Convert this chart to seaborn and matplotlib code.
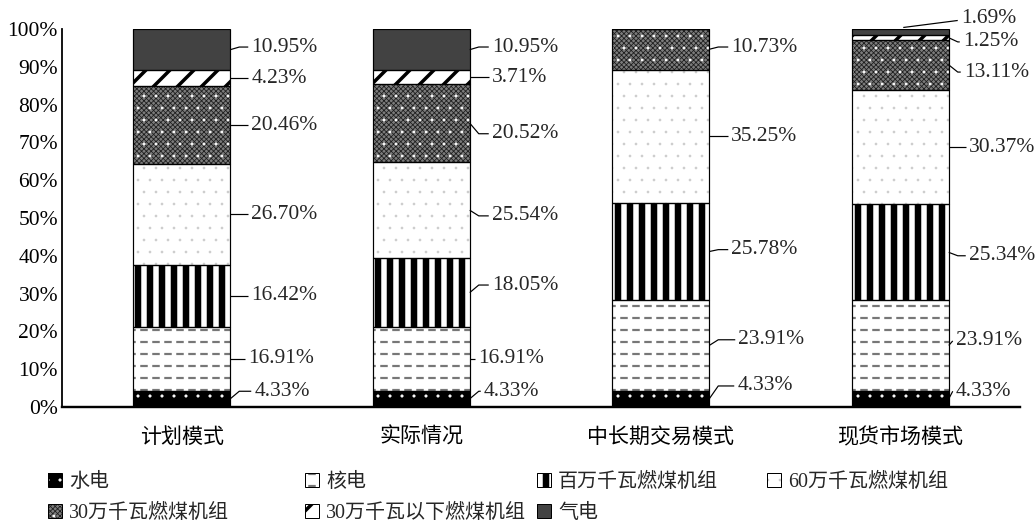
import matplotlib
matplotlib.use("Agg")
import matplotlib as mpl
import matplotlib.pyplot as plt
import numpy as np
import seaborn as sns
from matplotlib.patches import Patch, Rectangle
from matplotlib.legend_handler import HandlerPatch, HandlerTuple

# ---- data (percent share of generation by unit type) ----
categories = ["计划模式", "实际情况", "中长期交易模式", "现货市场模式"]
series_names = ["水电", "核电", "百万千瓦燃煤机组", "60万千瓦燃煤机组",
                "30万千瓦燃煤机组", "30万千瓦以下燃煤机组", "气电"]
hydro = [4.33, 4.33, 4.33, 4.33]
nuclear = [16.91, 16.91, 23.91, 23.91]
coal_1000mw = [16.42, 18.05, 25.78, 25.34]
coal_600mw = [26.70, 25.54, 35.25, 30.37]
coal_300mw = [20.46, 20.52, 10.73, 13.11]
coal_below_300mw = [4.23, 3.71, 0.0, 1.25]
gas = [10.95, 10.95, 0.0, 1.69]
series_values = [hydro, nuclear, coal_1000mw, coal_600mw,
                 coal_300mw, coal_below_300mw, gas]
y_ticks = list(range(0, 101, 10))
y_tick_labels = [f"{v}%" for v in y_ticks]

# ---- figure geometry ----
W, H, DPI = 1036, 523, 72
AX_LEFT, AX_RIGHT, AX_TOP, AX_BOTTOM = 62, 1020, 29, 407
BAR_WIDTH = 0.405
FS_NUM = 21.5
FS_CJK = 21
FS_LEGEND = 20
PX_PER_UNIT = (AX_RIGHT - AX_LEFT) / 4.0

# fill styles: face, hatch, hatch colour, hatch line width, optional overlay
styles = {
    "水电": ("#000000", ".", "#ffffff", 0.6, None),
    "核电": ("#ffffff", "-", "#777777", 2.2, ("|", "#ffffff", 4.5)),
    "百万千瓦燃煤机组": ("#ffffff", "|", "#000000", 6.5, None),
    "60万千瓦燃煤机组": ("#ffffff", ".", "#cccccc", 0.2, None),
    "30万千瓦燃煤机组": ("#7c7c7c", "xxxxx", "#1e1e1e", 0.8, (".", "#ffffff", 0.4)),
    "30万千瓦以下燃煤机组": ("#ffffff", "/", "#000000", 3.5, None),
    "气电": ("#424242", None, "#424242", 1.0, None),
}

# label placement per bar: vertical shift (in %) and text offset from bar edge (px)
label_dy = [
    [2.0, 0.3, 0.0, 0.0, -0.3, 0.0, 0.7],
    [2.0, 0.3, 2.0, -1.5, -2.8, 0.0, 0.7],
    [3.4, 1.5, 0.5, 0.0, 0.6, None, None],
    [2.0, 1.2, -0.9, -0.3, -1.9, -1.1, 3.7],
]
label_tx = [
    [24, 18, 21, 21, 21, 21, 21],
    [14, 8, 22, 22, 22, 22, 22],
    [28, 29, 22, 22, 22, None, None],
    [7, 7, 20, 20, 15, 14, 12],
]


def set_hatch_lw(patch, lw):
    if hasattr(patch, "set_hatch_linewidth"):
        patch.set_hatch_linewidth(lw)
    else:
        orig_draw = patch.draw

        def draw(renderer, _orig=orig_draw, _lw=lw):
            with mpl.rc_context({"hatch.linewidth": _lw}):
                _orig(renderer)
        patch.draw = draw


sns.set_style("white")
plt.rcParams["font.family"] = ["Liberation Serif", "Noto Sans CJK SC"]
plt.rcParams["axes.unicode_minus"] = False

fig = plt.figure(figsize=(W / DPI, H / DPI), dpi=DPI)
ax = fig.add_axes([AX_LEFT / W, (H - AX_BOTTOM) / H,
                   (AX_RIGHT - AX_LEFT) / W, (AX_BOTTOM - AX_TOP) / H])


def add_layer(values, bottom, zorder):
    n0 = len(ax.patches)
    sns.barplot(x=categories, y=values, order=categories, ax=ax,
                width=BAR_WIDTH, bottom=bottom, errorbar=None,
                color="white", saturation=1, zorder=zorder)
    return ax.patches[n0:]


bottoms = np.zeros(len(categories))
for name, vals in zip(series_names, series_values):
    face, hatch, hcol, hlw, overlay = styles[name]
    for p in add_layer(vals, bottoms.copy(), 2):
        p.set_facecolor(face)
        p.set_hatch(hatch)
        p.set_edgecolor(hcol)
        p.set_linewidth(0)
        set_hatch_lw(p, hlw)
    if overlay is not None:
        oh, oc, olw = overlay
        for p in add_layer(vals, bottoms.copy(), 2.1):
            p.set_facecolor("none")
            p.set_hatch(oh)
            p.set_edgecolor(oc)
            p.set_linewidth(0)
            set_hatch_lw(p, olw)
    for p in add_layer(vals, bottoms.copy(), 2.2):
        p.set_facecolor("none")
        p.set_hatch(None)
        p.set_edgecolor("black")
        p.set_linewidth(1.2)
    bottoms = bottoms + np.array(vals)

# value labels with leader lines
px = 1.0 / PX_PER_UNIT
cum = np.zeros(len(categories))
for si, (name, vals) in enumerate(zip(series_names, series_values)):
    for ci, v in enumerate(vals):
        lo = cum[ci]
        if v <= 0:
            continue
        center = lo + v / 2
        edge = ci + BAR_WIDTH / 2
        dy = label_dy[ci][si]
        tx = label_tx[ci][si]
        ly = center + dy
        if name == "气电" and ci == 3:
            xs = [ci + 3 * px, edge + (tx - 3) * px]
            ys = [100.4, ly - 0.6]
        elif abs(dy) < 0.5:
            ly = center
            xs = [edge, edge + (tx - 3) * px]
            ys = [center, center]
        else:
            bend = min(tx - 3, 9)
            xs = [edge, edge + bend * px, edge + (tx - 3) * px]
            ys = [center, ly, ly]
        ax.plot(xs, ys, color="black", lw=1.2, solid_capstyle="butt",
                clip_on=False, zorder=3)
        ax.text(edge + tx * px, ly, f"{v:.2f}%", ha="left", va="center",
                fontsize=FS_NUM, clip_on=False, zorder=3)
    cum = cum + np.array(vals)

ax.set_xlim(-0.5, 3.5)
ax.set_ylim(0, 100)
ax.set_yticks(y_ticks)
ax.set_yticklabels(y_tick_labels, fontsize=FS_NUM)
ax.set_xticks(range(len(categories)))
ax.set_xticklabels(categories, fontsize=FS_CJK)
ax.set_xlabel("")
ax.set_ylabel("")
ax.tick_params(axis="y", direction="in", length=6, width=1.5, pad=4, colors="black")
ax.tick_params(axis="x", length=0, pad=21, colors="black")
for s in ["top", "right"]:
    ax.spines[s].set_visible(False)
ax.spines["left"].set_linewidth(1.8)
ax.spines["bottom"].set_linewidth(2.4)
for s in ["left", "bottom"]:
    ax.spines[s].set_color("black")
ax.set_facecolor("white")

# legend (four fixed columns under the chart)
legend_hlw = {}


def legend_patch(legend, orig_handle, xdescent, ydescent, width, height, fontsize):
    r = Rectangle((-xdescent, -ydescent), width, height)
    set_hatch_lw(r, legend_hlw.get(id(orig_handle), 1.0))
    return r


def make_handle(name):
    face, hatch, hcol, hlw, overlay = styles[name]
    parts = []
    base = Patch(facecolor=face, edgecolor=hcol, hatch=hatch, linewidth=0)
    legend_hlw[id(base)] = hlw
    set_hatch_lw(base, hlw)
    parts.append(base)
    if overlay is not None:
        oh, oc, olw = overlay
        top = Patch(facecolor="none", edgecolor=oc, hatch=oh, linewidth=0)
        legend_hlw[id(top)] = olw
        set_hatch_lw(top, olw)
        parts.append(top)
    parts.append(Patch(facecolor="none", edgecolor="black", linewidth=1.0))
    return tuple(parts)


legend_columns = [["水电", "30万千瓦燃煤机组"],
                  ["核电", "30万千瓦以下燃煤机组"],
                  ["百万千瓦燃煤机组", "气电"],
                  ["60万千瓦燃煤机组"]]
legend_x = [48, 305, 537, 767]
LEGEND_TOP = 473
hmap = {tuple: HandlerTuple(ndivide=1, pad=0),
        Patch: HandlerPatch(patch_func=legend_patch)}
for names, lx in zip(legend_columns, legend_x):
    fig.legend([make_handle(n) for n in names], names, loc="upper left",
               bbox_to_anchor=(lx / W, 1 - LEGEND_TOP / H), frameon=False,
               borderpad=0, borderaxespad=0, handlelength=0.7, handleheight=0.7,
               handletextpad=0.35, labelspacing=0.6, fontsize=FS_LEGEND,
               handler_map=hmap)

fig.savefig("out.png", dpi=DPI, facecolor="white")
